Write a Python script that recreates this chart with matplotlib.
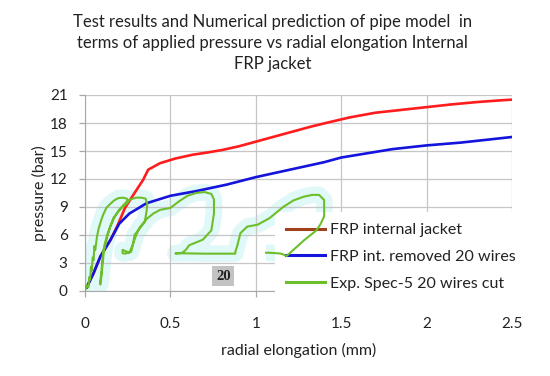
import matplotlib
matplotlib.use('Agg')
import matplotlib.pyplot as plt
from matplotlib.lines import Line2D

# FRP internal jacket (numerical)
red_x = [0.01, 0.05, 0.09, 0.15, 0.19, 0.234, 0.29, 0.34, 0.37, 0.44, 0.53, 0.63,
         0.72, 0.8, 0.9, 1.02, 1.12, 1.22, 1.32, 1.41, 1.55, 1.7, 1.85, 2.0, 2.15,
         2.3, 2.45, 2.5]
red_y = [0.4, 1.9, 3.7, 5.5, 7.0, 8.9, 10.5, 11.9, 13.0, 13.7, 14.2, 14.6,
         14.85, 15.1, 15.5, 16.1, 16.6, 17.1, 17.6, 18.0, 18.6, 19.1, 19.4, 19.7,
         20.0, 20.25, 20.45, 20.5]

# FRP int. removed 20 wires (numerical)
blue_x = [0.01, 0.05, 0.09, 0.15, 0.2, 0.26, 0.36, 0.5, 0.65, 0.83, 1.0, 1.2,
          1.4, 1.5, 1.6, 1.8, 2.0, 2.2, 2.4, 2.5]
blue_y = [0.4, 1.9, 3.7, 5.5, 7.2, 8.3, 9.4, 10.2, 10.7, 11.4, 12.2, 13.0,
          13.8, 14.3, 14.6, 15.2, 15.6, 15.9, 16.3, 16.5]

# Exp. Spec-5 20 wires cut (test trace, loading / unloading loops)
exp_x = [0.0, 0.01, 0.02, 0.025, 0.03, 0.035, 0.04, 0.045, 0.05, 0.055, 0.06,
         0.07, 0.08, 0.095, 0.107, 0.125, 0.146, 0.17, 0.195, 0.22, 0.245, 0.255,
         0.24, 0.22, 0.195, 0.166, 0.146, 0.13, 0.12, 0.11, 0.105, 0.1, 0.095,
         0.09, 0.088,
         0.095, 0.1, 0.105, 0.115, 0.13, 0.15, 0.175, 0.2, 0.225, 0.25, 0.28,
         0.3, 0.33, 0.355, 0.365, 0.36, 0.35, 0.32, 0.29, 0.28, 0.27, 0.234,
         0.22, 0.22, 0.26,
         0.28, 0.3, 0.32, 0.36, 0.4, 0.44, 0.5, 0.55, 0.6, 0.65, 0.7, 0.74,
         0.755, 0.755, 0.74, 0.69, 0.61, 0.59, 0.57, 0.53, 0.53, 0.7, 0.88,
         0.88, 0.89, 0.91, 0.95, 1.01, 1.08, 1.16, 1.22, 1.28, 1.33, 1.37,
         1.40, 1.40, 1.38, 1.355, 1.28, 1.22, 1.18, 1.15, 1.12, 1.07, 1.06]
exp_y = [0.0, 0.6, 0.4, 1.5, 1.2, 2.6, 2.2, 3.6, 3.3, 4.8, 4.4,
         5.8, 6.7, 7.6, 8.2, 8.9, 9.3, 9.7, 9.95, 10.0, 9.9, 9.6,
         9.3, 9.0, 8.5, 7.8, 6.8, 5.8, 5.0, 4.2, 3.2, 2.3, 1.4,
         0.7, 0.9,
         1.8, 3.0, 4.0, 5.0, 6.0, 7.0, 8.0, 8.7, 9.2, 9.7, 9.9,
         10.0, 10.0, 9.9, 9.3, 8.5, 7.4, 6.7, 6.0, 4.9, 4.2, 4.0,
         4.05, 4.4, 4.1,
         5.0, 6.0, 6.8, 7.7, 8.3, 8.7, 8.9, 9.6, 10.2, 10.5, 10.6, 10.4,
         9.8, 8.3, 6.5, 5.5, 4.9, 4.4, 4.1, 4.0, 4.05, 4.0, 4.0,
         4.2, 4.75, 6.2, 6.9, 7.1, 7.8, 9.0, 9.7, 10.1, 10.3, 10.3,
         9.75, 8.0, 7.2, 6.5, 5.4, 4.4, 3.75, 4.0, 4.05, 4.1, 4.1]

x_ticks = [0, 0.5, 1, 1.5, 2, 2.5]
x_tick_labels = ['0', '0.5', '1', '1.5', '2', '2.5']
y_ticks = [0, 3, 6, 9, 12, 15, 18, 21]

series_labels = ['FRP internal jacket', 'FRP int. removed 20 wires',
                 'Exp. Spec-5 20 wires cut']

title = ('Test results and Numerical prediction of pipe model  in\n'
         'terms of applied pressure vs radial elongation Internal\n'
         'FRP jacket')

plt.rcParams['font.family'] = ['Lato', 'DejaVu Sans']

fig = plt.figure(figsize=(5.5, 3.76), dpi=100)
ax = fig.add_axes([85 / 550, 85 / 376, 427 / 550, 196 / 376])

grid_col = '#c6c6c6'
ax.set_axisbelow(True)
ax.grid(True, color=grid_col, linewidth=0.9, zorder=0.5)

ax.plot(red_x, red_y, color='#ff1c1c', linewidth=1.9, zorder=3)
ax.plot(blue_x, blue_y, color='#1414dc', linewidth=1.9, zorder=3.1)
# pale halo behind the pasted test trace (sits under the grid)
ax.plot(exp_x, exp_y, color='#e0f8f8', linewidth=12,
        solid_capstyle='butt', solid_joinstyle='round', zorder=0.3)
ax.plot(exp_x, exp_y, color='#6cbf2a', linewidth=1.5, zorder=3.2)

ax.text(0.81, 1.6, '20', family='Liberation Serif', fontweight='bold',
        fontsize=10.5, color='#222222', ha='center', va='center', zorder=3,
        bbox=dict(boxstyle='square,pad=0.25', facecolor='#c3c3c3',
                  edgecolor='none'))

ax.set_xlim(0, 2.5)
ax.set_ylim(0, 21)
ax.set_xticks(x_ticks)
ax.set_xticklabels(x_tick_labels)
ax.set_yticks(y_ticks)

for s in ['top', 'right']:
    ax.spines[s].set_visible(False)
for s in ['left', 'bottom']:
    ax.spines[s].set_color('#a8a8a8')
ax.tick_params(axis='both', colors='#a8a8a8', labelcolor='#222222',
               labelsize=11, length=4.5, width=0.9)
ax.tick_params(axis='x', pad=14)
ax.tick_params(axis='y', pad=8)

ax.set_xlabel('radial elongation (mm)', fontsize=11.5, color='#222222')
ax.xaxis.set_label_coords(0.5, -0.265)
ax.set_ylabel('pressure (bar)', fontsize=11.5, color='#222222')
ax.yaxis.set_label_coords(-0.09, 0.5)

handles = [Line2D([], [], color='#a0401c', linewidth=2.2),
           Line2D([], [], color='#1414dc', linewidth=2.2),
           Line2D([], [], color='#6cbf2a', linewidth=2.2)]
leg = ax.legend(handles, series_labels, loc='upper left',
                bbox_to_anchor=(275 / 550, 1 - 212 / 376),
                bbox_transform=fig.transFigure, borderaxespad=0,
                fontsize=11.5, handlelength=2.4, handletextpad=0.35,
                labelspacing=0.78, borderpad=0.7, frameon=True,
                fancybox=False, edgecolor='none', facecolor='white',
                framealpha=1)
for t in leg.get_texts():
    t.set_color('#222222')
leg.set_zorder(2.5)

fig.text(0.495, 0.962, title, ha='center', va='top', fontsize=12,
         color='#222222', linespacing=1.38)

fig.savefig('out.png', dpi=100)
